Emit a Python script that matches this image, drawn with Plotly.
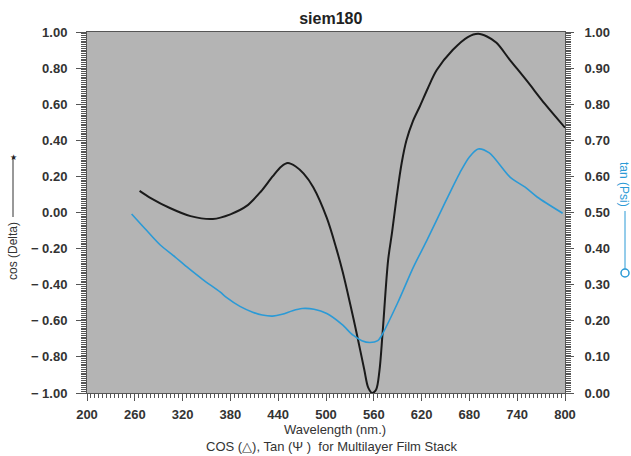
import plotly.graph_objects as go

# cos(Delta) series (left axis)
wl_cos = [266, 280, 304, 330, 358, 380, 400, 418, 433, 444, 452, 462, 472, 484, 501, 513, 521, 530,
          539, 548, 553, 558, 563, 567, 571, 578, 583, 589, 595, 601, 609, 618, 628, 639, 659, 678,
          691, 702, 714, 730, 752, 775, 800]
cos_delta = [0.12, 0.08, 0.025, -0.02, -0.036, -0.01, 0.035, 0.115, 0.20, 0.255, 0.274, 0.255, 0.215,
             0.14, -0.03, -0.2, -0.33, -0.5, -0.68, -0.87, -0.97, -1.0, -0.98, -0.88, -0.67,
             -0.263, -0.108, 0.097, 0.274, 0.40, 0.505, 0.59, 0.69, 0.789, 0.90, 0.972,
             0.99, 0.975, 0.94, 0.85, 0.73, 0.60, 0.47]

# tan(Psi) series (right axis)
wl_tan = [256, 275, 292, 310, 325, 345, 367, 375, 392, 408, 420, 433, 445, 458, 470, 485, 501, 520,
          534, 545, 555, 565, 570, 590, 610, 626, 650, 668, 680, 691, 705, 731, 750, 765, 797]
tan_psi = [0.496, 0.45, 0.41, 0.378, 0.35, 0.315, 0.28, 0.265, 0.24, 0.224, 0.216, 0.213, 0.218,
           0.228, 0.234, 0.232, 0.22, 0.19, 0.16, 0.145, 0.14, 0.145, 0.16, 0.25, 0.35, 0.42, 0.53,
           0.61, 0.654, 0.676, 0.665, 0.598, 0.57, 0.543, 0.498]

x_ticks = [200, 260, 320, 380, 440, 500, 560, 620, 680, 740, 800]
left_vals = [1.0, 0.8, 0.6, 0.4, 0.2, 0.0, -0.2, -0.4, -0.6, -0.8, -1.0]
left_text = ["1.00", "0.80", "0.60", "0.40", "0.20", "0.00", "\u2212 0.20", "\u2212 0.40",
             "\u2212 0.60", "\u2212 0.80", "\u2212 1.00"]
right_vals = [1.0, 0.9, 0.8, 0.7, 0.6, 0.5, 0.4, 0.3, 0.2, 0.1, 0.0]
right_text = ["1.00", "0.90", "0.80", "0.70", "0.60", "0.50", "0.40", "0.30", "0.20", "0.10", "0.00"]

FONT = "Liberation Sans, Arial, sans-serif"
TXT = "#333333"
BLUE = "#2b9ad6"
AX = "#555555"

fig = go.Figure()
fig.add_trace(go.Scatter(x=wl_cos, y=cos_delta, mode="lines",
                         line=dict(color="#1a1a1a", width=2, shape="spline", smoothing=0.9),
                         showlegend=False, yaxis="y"))
fig.add_trace(go.Scatter(x=wl_tan, y=tan_psi, mode="lines",
                         line=dict(color=BLUE, width=1.6, shape="spline", smoothing=0.8),
                         showlegend=False, yaxis="y2"))

tickfont = dict(family=FONT, size=13, color=TXT, weight="bold")

fig.update_layout(
    width=631, height=456,
    margin=dict(l=87, r=66, t=32, b=63),
    paper_bgcolor="white", plot_bgcolor="#b4b4b4",
    title=dict(text="siem180", x=0.51, xref="paper", y=1 - 18 / 456, yref="container",
               xanchor="center", yanchor="middle",
               font=dict(family=FONT, size=16, color="#222222", weight="bold")),
    xaxis=dict(range=[200, 800], tickvals=x_ticks, ticks="outside", ticklen=7, tickcolor=AX,
               showline=True, linecolor=AX, linewidth=1, mirror=True, showgrid=False,
               zeroline=False, tickfont=tickfont, ticklabelstandoff=2,
               minor=dict(dtick=5, ticks="outside", ticklen=4, tickcolor=AX, showgrid=False)),
    yaxis=dict(range=[-1, 1], tickvals=left_vals, ticktext=left_text, ticks="outside", ticklen=10,
               tickcolor=AX, showline=True, linecolor=AX, linewidth=1, showgrid=False,
               zeroline=False, tickfont=tickfont, ticklabelstandoff=6,
               minor=dict(dtick=0.01, ticks="outside", ticklen=5, tickcolor=AX, showgrid=False)),
    yaxis2=dict(range=[0, 1], overlaying="y", side="right", tickvals=right_vals,
                ticktext=right_text, ticks="outside", ticklen=8, tickcolor=AX, showline=True,
                linecolor=AX, linewidth=1, showgrid=False, zeroline=False, tickfont=tickfont,
                ticklabelstandoff=8,
                minor=dict(dtick=0.005, ticks="outside", ticklen=5, tickcolor=AX, showgrid=False)),
)

def px_x(px):
    return (px - 87) / 478.0

def px_y(py):
    return (393 - py) / 361.0

annos = [
    dict(text="Wavelength (nm.)", x=px_x(335), y=px_y(430), font=dict(family=FONT, size=13, color=TXT)),
    dict(text="COS (\u25b3), Tan (\u03a8 )  for Multilayer Film Stack", x=px_x(332), y=px_y(447),
         font=dict(family=FONT, size=13, color=TXT)),
    dict(text="cos (Delta)", x=px_x(13), y=px_y(251), textangle=-90,
         font=dict(family=FONT, size=12, color=TXT)),
    dict(text="\u2605", x=px_x(13), y=px_y(157), font=dict(family="DejaVu Sans", size=8, color="#222222")),
    dict(text="tan (Psi)", x=px_x(624), y=px_y(184), textangle=90,
         font=dict(family=FONT, size=12, color=BLUE)),
]
for a in annos:
    fig.add_annotation(xref="paper", yref="paper", showarrow=False, xanchor="center",
                       yanchor="middle", **a)

fig.add_shape(type="line", xref="paper", yref="paper", x0=px_x(13), x1=px_x(13),
              y0=px_y(217), y1=px_y(158), line=dict(color="#333333", width=1))
fig.add_shape(type="line", xref="paper", yref="paper", x0=px_x(625), x1=px_x(625),
              y0=px_y(211), y1=px_y(269), line=dict(color=BLUE, width=1))
fig.add_shape(type="circle", xref="paper", yref="paper", xsizemode="pixel", ysizemode="pixel",
              xanchor=px_x(625), yanchor=px_y(273), x0=-4, x1=4, y0=-4, y1=4,
              line=dict(color=BLUE, width=1.5), fillcolor="white")

fig.write_html("out.html", config={"displayModeBar": False},
               post_script="document.body.style.margin='0';document.body.style.overflow='hidden';")
